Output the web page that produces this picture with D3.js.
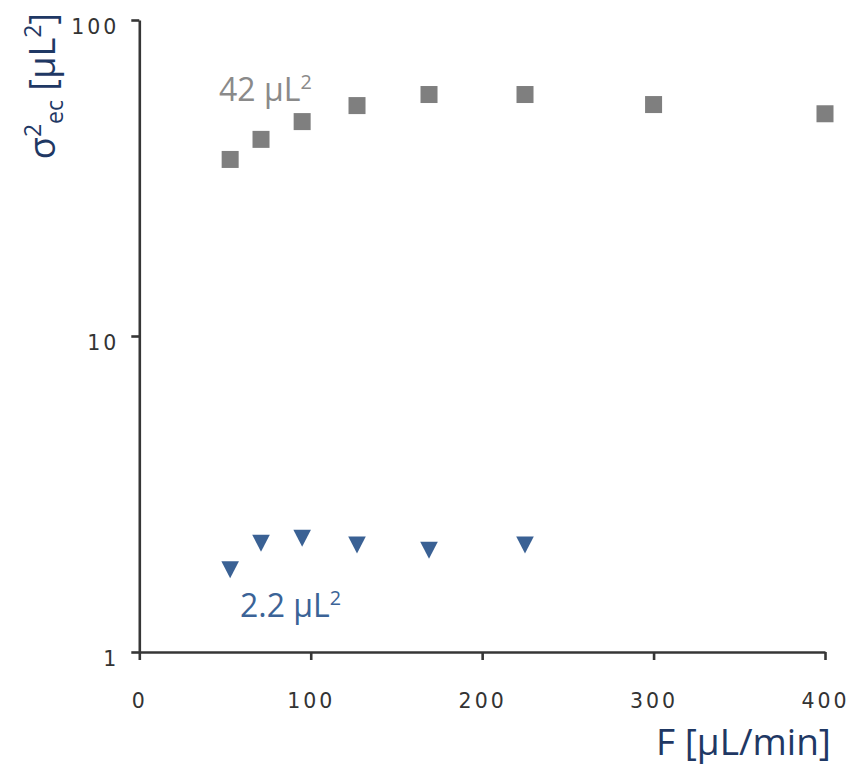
<!DOCTYPE html>
<html>
<head>
<meta charset="utf-8">
<script src="https://cdn.jsdelivr.net/npm/d3@7"></script>
<style>
  html, body { margin: 0; padding: 0; background: #fff; }
  svg { display: block; }
</style>
</head>
<body>
<svg id="chart" width="865" height="773"></svg>
<script>
// ── Data ─────────────────────────────────────────────
const flowRates   = [53, 71, 95, 127, 169, 225, 300, 400];       // F [µL/min]
const greySeries  = [36.2, 41.9, 47.7, 53.6, 58.1, 58.1, 54.0, 50.5];
const blueFlows   = [53, 71, 95, 127, 169, 225];
const blueSeries  = [1.82, 2.21, 2.29, 2.18, 2.10, 2.18];
const xTicks      = [0, 100, 200, 300, 400];
const yTicks      = [1, 10, 100];

// ── Layout ───────────────────────────────────────────
const svg = d3.select('#chart');
const X0 = 139.3, X1 = 825, Y0 = 652, Y1 = 20;
const AXIS = '#363636';
const TICK_FONT = "'DejaVu Sans', sans-serif";
const TXT_FONT  = "'Open Sans', sans-serif";

const x = d3.scaleLinear().domain([0, 400]).range([X0, X1]);
const y = d3.scaleLog().domain([1, 100]).range([Y0, Y1]);

// ── Axes ─────────────────────────────────────────────
const gx = svg.append('g').attr('transform', `translate(0,${Y0})`)
  .call(d3.axisBottom(x).tickValues(xTicks).tickSizeInner(8).tickSizeOuter(0).tickPadding(33));
const gy = svg.append('g').attr('transform', `translate(${X0},0)`)
  .call(d3.axisLeft(y).tickValues(yTicks).tickFormat(d3.format('d')).tickSizeInner(8).tickSizeOuter(0).tickPadding(12));

[gx, gy].forEach(g => {
  g.select('.domain').attr('stroke', AXIS).attr('stroke-width', 2.6);
  g.selectAll('.tick line').attr('stroke', AXIS).attr('stroke-width', 2.6);
  g.selectAll('.tick text')
    .attr('fill', '#333')
    .attr('font-family', TICK_FONT)
    .attr('font-size', '20.5px')
    .attr('letter-spacing', '3px');
});
gy.selectAll('.tick text').attr('dy', '0.82em').attr('y', -3);
gx.selectAll('.tick text').attr('dy', '0.71em');

// ── Marks ────────────────────────────────────────────
const sq = 17;
svg.append('g').selectAll('rect')
  .data(flowRates.map((f, i) => ({ f, v: greySeries[i] })))
  .join('rect')
  .attr('x', d => x(d.f) - sq / 2)
  .attr('y', d => y(d.v) - sq / 2)
  .attr('width', sq).attr('height', sq)
  .attr('fill', '#7f7f7f');

const tri = 'M-8.8,-8.5L8.8,-8.5L0,8.5Z';
svg.append('g').selectAll('path')
  .data(blueFlows.map((f, i) => ({ f, v: blueSeries[i] })))
  .join('path')
  .attr('transform', d => `translate(${x(d.f)},${y(d.v)})`)
  .attr('d', tri)
  .attr('fill', '#3a6194');

// ── Annotations ──────────────────────────────────────
function supLabel(xp, yp, main, color, size) {
  const t = svg.append('text').attr('x', xp).attr('y', yp)
    .attr('font-family', TXT_FONT).attr('font-size', size + 'px').attr('fill', color);
  t.append('tspan').text(main);
  t.append('tspan').attr('font-size', (size * 0.62) + 'px').attr('dy', -size * 0.36).text('2');
  return t;
}
supLabel(219, 100.5, '42 μL', '#8a8a8a', 32);
supLabel(240, 617, '2.2 μL', '#3b6397', 32);

// axis titles
svg.append('text')
  .attr('x', 656).attr('y', 755)
  .attr('font-family', TXT_FONT).attr('font-size', '37px')
  .attr('fill', '#1f3864')
  .text('F [μL/min]');

const yl = svg.append('text')
  .attr('transform', 'translate(55,86) rotate(-90)')
  .attr('text-anchor', 'middle')
  .attr('font-family', TXT_FONT).attr('font-size', '36px')
  .attr('fill', '#1f3864');
yl.append('tspan').text('σ');
yl.append('tspan').attr('font-size', '23px').attr('dy', -14).text('2');
yl.append('tspan').attr('font-size', '23px').attr('dy', 22).text('ec');
yl.append('tspan').attr('dy', -8).text(' [μL');
yl.append('tspan').attr('font-size', '23px').attr('dy', -14).text('2');
yl.append('tspan').attr('dy', 14).text(']');
</script>
</body>
</html>
